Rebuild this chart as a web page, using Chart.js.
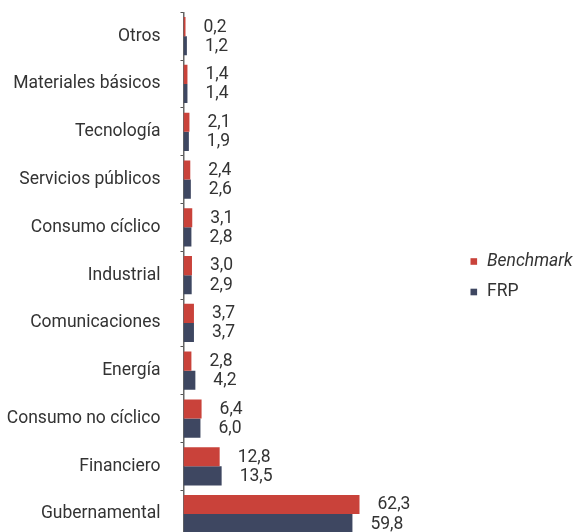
<!DOCTYPE html>
<html>
<head>
<meta charset="utf-8">
<script src="https://cdn.jsdelivr.net/npm/chart.js@4"></script>
<style>
  html, body { margin: 0; padding: 0; background: #fff; overflow: hidden; }
  #wrap { width: 577px; height: 540px; }
</style>
</head>
<body>
<div id="wrap"><canvas id="c" width="577" height="540"></canvas></div>
<script>
// Sector weights (%), benchmark vs. portfolio
const sectors = [
  'Otros', 'Materiales básicos', 'Tecnología', 'Servicios públicos',
  'Consumo cíclico', 'Industrial', 'Comunicaciones', 'Energía',
  'Consumo no cíclico', 'Financiero', 'Gubernamental'
];
const benchmarkValues = [0.2, 1.4, 2.1, 2.4, 3.1, 3.0, 3.7, 2.8, 6.4, 12.8, 62.3];
const frpValues       = [1.2, 1.4, 1.9, 2.6, 2.8, 2.9, 3.7, 4.2, 6.0, 13.5, 59.8];
const seriesNames = ['Benchmark', 'FRP'];

const RED = '#c9423a';
const NAVY = '#3e4761';
const TEXT = '#333333';
const FONT = 'Roboto, "Liberation Sans", sans-serif';
const FS = 17.5;

const fmt = v => v.toFixed(1).replace('.', ',');

// value labels to the right of each bar
const valueLabels = {
  id: 'valueLabels',
  afterDatasetsDraw(chart) {
    const ctx = chart.ctx;
    ctx.save();
    ctx.font = FS + 'px ' + FONT;
    ctx.fillStyle = TEXT;
    ctx.textAlign = 'left';
    ctx.textBaseline = 'middle';
    chart.data.datasets.forEach((ds, di) => {
      chart.getDatasetMeta(di).data.forEach((bar, i) => {
        ctx.fillText(fmt(ds.data[i]), bar.x + 18, bar.y + 0.5);
      });
    });
    ctx.restore();
  }
};

// legend on the right, Benchmark in italics
const sideLegend = {
  id: 'sideLegend',
  afterDraw(chart) {
    const ctx = chart.ctx;
    ctx.save();
    ctx.textBaseline = 'middle';
    ctx.textAlign = 'left';
    const x0 = 470.5, y0 = 261.5, gap = 30.5;
    chart.data.datasets.forEach((ds, i) => {
      const y = y0 + i * gap;
      ctx.fillStyle = ds.backgroundColor;
      ctx.fillRect(x0, y - 3.3, 6.6, 6.6);
      ctx.fillStyle = TEXT;
      ctx.font = (i === 0 ? 'italic ' : '') + FS + 'px ' + FONT;
      ctx.fillText(ds.label, 487, y);
    });
    ctx.restore();
  }
};

new Chart(document.getElementById('c'), {
  type: 'bar',
  data: {
    labels: sectors,
    datasets: [
      { label: seriesNames[0], data: benchmarkValues, backgroundColor: RED },
      { label: seriesNames[1], data: frpValues, backgroundColor: NAVY }
    ]
  },
  options: {
    indexAxis: 'y',
    responsive: false,
    animation: false,
    layout: { padding: { top: 12.3, bottom: 2, left: 0, right: 111 } },
    datasets: { bar: { categoryPercentage: 0.8, barPercentage: 1.0, minBarLength: 2 } },
    plugins: { legend: { display: false }, tooltip: { enabled: false } },
    scales: {
      x: { display: false, min: 0, max: 100 },
      y: {
        afterFit(scale) {
          scale.width = 183.5;
          scale.paddingTop = 0;
          scale.paddingBottom = 0;
        },
        grid: { drawOnChartArea: false, tickLength: 3, color: '#555', lineWidth: 1 },
        border: { display: true, color: '#666', width: 1.5 },
        ticks: {
          padding: 20,
          color: TEXT,
          font: { family: FONT, size: FS }
        }
      }
    }
  },
  plugins: [valueLabels, sideLegend]
});
</script>
</body>
</html>
